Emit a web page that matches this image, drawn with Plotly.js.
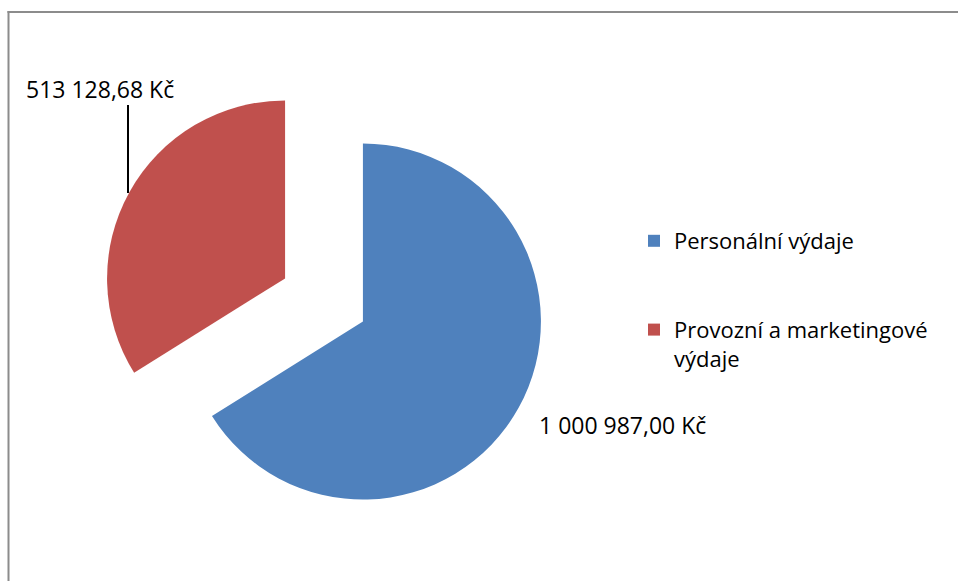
<!DOCTYPE html>
<html><head><meta charset="utf-8">
<script src="https://cdn.plot.ly/plotly-3.0.1.min.js"></script>
<style>html,body{margin:0;padding:0;background:#fff}#chart{width:958px;height:581px}</style>
</head><body><div id="chart"></div>
<script>
const categories = ["Personální výdaje", "Provozní a marketingové výdaje"];
const values = [1000987.00, 513128.68];
const colors = ["#4F81BD", "#C0504D"];
const currency = "Kč";

const W = 958, H = 581;
const FONT = "'Open Sans', 'Liberation Sans', sans-serif";
const TXT = 23;
function fmt(v) {
  const parts = v.toFixed(2).split('.');
  return parts[0].replace(/\B(?=(\d{3})+(?!\d))/g, ' ') + ',' + parts[1] + ' ' + currency;
}
function px(x) { return x / W; }
function py(y) { return 1 - y / H; }

// legend labels (wrapped like the original, first padded to reproduce spacing)
const legendLabels = [
  categories[0] + "<br> <br> ",
  categories[1].replace(" výdaje", "<br>výdaje")
];

const trace = {
  type: 'pie',
  labels: legendLabels,
  values: values,
  marker: { colors: colors, line: { width: 0 } },
  sort: false,
  direction: 'clockwise',
  rotation: 0,
  pull: [0.25, 0.25],
  textinfo: 'none',
  hoverinfo: 'value',
  domain: { x: [px(324 - 222.5), px(324 + 222.5)], y: [py(300 + 222.5), py(300 - 222.5)] }
};

const layout = {
  width: W, height: H,
  margin: { l: 0, r: 0, t: 0, b: 0 },
  paper_bgcolor: '#ffffff',
  showlegend: true,
  legend: {
    x: px(634), xanchor: 'left', y: py(220), yanchor: 'top',
    font: { family: FONT, size: 22, color: '#000000' },
    valign: 'top', bgcolor: 'rgba(0,0,0,0)'
  },
  annotations: [
    { xref: 'paper', yref: 'paper', x: px(100), y: py(89), text: fmt(values[1]), showarrow: false,
      xanchor: 'center', yanchor: 'middle', font: { family: FONT, size: TXT, color: '#000000' } },
    { xref: 'paper', yref: 'paper', x: px(622), y: py(425), text: fmt(values[0]), showarrow: false,
      xanchor: 'center', yanchor: 'middle', font: { family: FONT, size: TXT, color: '#000000' } }
  ],
  shapes: [
    { type: 'line', xref: 'paper', yref: 'paper', x0: px(128), x1: px(128), y0: py(105), y1: py(193),
      line: { color: '#000000', width: 2 } },
    { type: 'line', xref: 'paper', yref: 'paper', x0: px(8.5), x1: px(8.5), y0: py(11), y1: py(H + 5),
      line: { color: '#8c8c8c', width: 2 } },
    { type: 'line', xref: 'paper', yref: 'paper', x0: px(7.5), x1: px(W + 5), y0: py(12), y1: py(12),
      line: { color: '#8c8c8c', width: 2 } }
  ]
};

Plotly.newPlot('chart', [trace], layout, { displayModeBar: false, staticPlot: true });
</script>
</body></html>
